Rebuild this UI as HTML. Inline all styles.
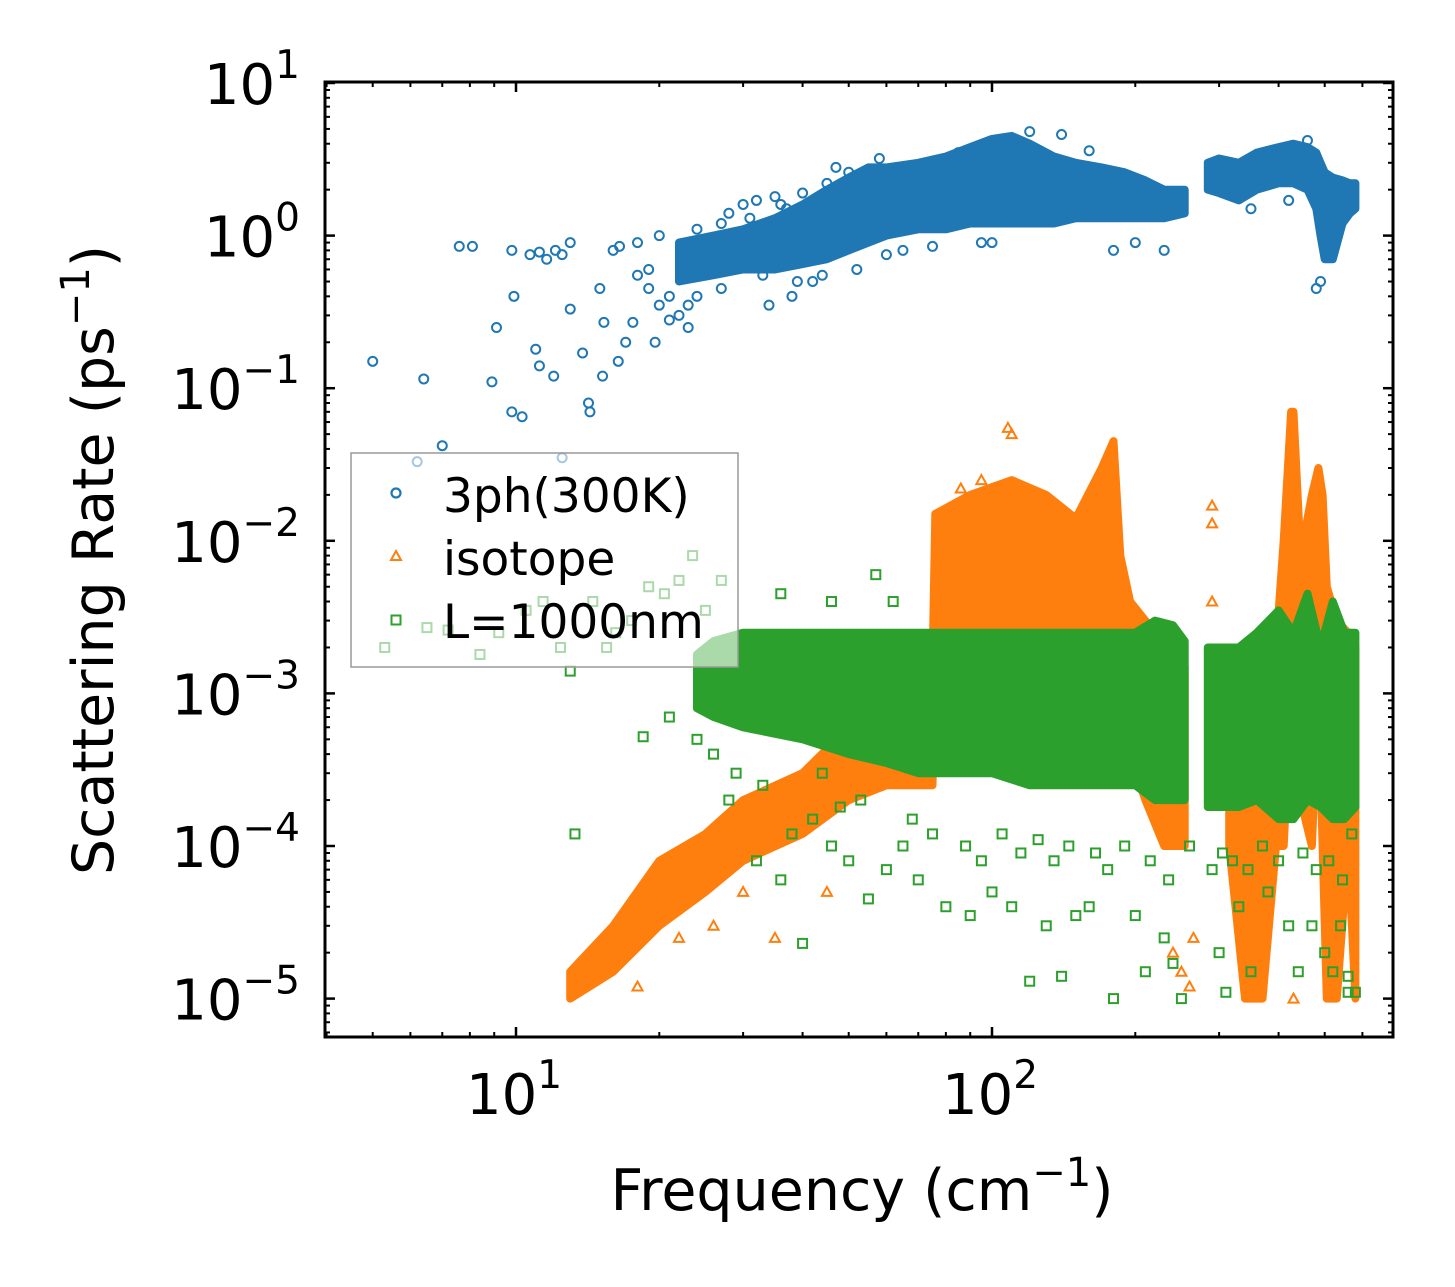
<!DOCTYPE html>
<html><head><meta charset="utf-8"><style>
body{margin:0;background:#fff;}
svg{display:block;font-family:"DejaVu Sans","Liberation Sans",sans-serif;}
</style></head><body>
<svg id="chart" width="1455" height="1287" viewBox="0 0 1455 1287" xmlns="http://www.w3.org/2000/svg">
<rect width="1455" height="1287" fill="#fff"/>
<g id="marks"></g>
<g id="axes"></g>
<g>
<rect x="351" y="453" width="387" height="214" fill="#fff" fill-opacity="0.6" stroke="#999" stroke-width="1.5"/>
<circle cx="396" cy="493" r="4.5" fill="none" stroke="#1f77b4" stroke-width="2.2"/>
<text x="443" y="512" font-size="47">3ph(300K)</text>
<polygon points="396,551 401,560 391,560" fill="none" stroke="#ff7f0e" stroke-width="2"/>
<text x="443" y="575" font-size="47">isotope</text>
<rect x="391.5" y="615.5" width="9" height="9" fill="none" stroke="#2ca02c" stroke-width="2"/>
<text x="443" y="638" font-size="47">L=1000nm</text>
</g>
<text x="862" y="1210" font-size="57" text-anchor="middle">Frequency (cm<tspan dy="-24" font-size="40">−1</tspan><tspan dy="24">)</tspan></text>
<text transform="translate(113,560) rotate(-90)" font-size="57" text-anchor="middle">Scattering Rate (ps<tspan dy="-24" font-size="40">−1</tspan><tspan dy="24">)</tspan></text>
</svg>
<script>
// ---- data ----
const blueEnvF  = [22, 26, 30, 35, 40, 45, 50, 55, 60, 70, 80, 90, 100, 110, 120, 135, 150, 170, 190, 210, 230, 254, null, 284, 300, 330, 360, 400, 430, 460, 480, 490, 500, 520, 545, 565, 580];
const blueEnvLo = [0.5, 0.55,0.6, 0.6, 0.65,0.7, 0.8, 0.9, 1.0, 1.1, 1.1, 1.2, 1.2, 1.2, 1.2, 1.2, 1.3, 1.3, 1.3, 1.3, 1.3, 1.4, null, 2.0, 1.9, 1.7, 2.0, 2.2, 2.2, 2.0, 1.5, 1.0, 0.7, 0.7, 1.2, 1.4, 1.5];
const blueEnvHi = [0.9, 1.0, 1.1, 1.3, 1.6, 2.0, 2.4, 2.8, 2.8, 3.0, 3.3, 3.8, 4.3, 4.5, 4.0, 3.3, 3.0, 2.8, 2.6, 2.3, 2.0, 2.0, null, 3.0, 3.2, 3.0, 3.5, 3.8, 4.0, 3.8, 3.5, 3.0, 2.6, 2.4, 2.3, 2.2, 2.2];
const blueF = [
 5.0, 6.4, 7.0, 6.2, 7.6, 8.1, 9.1, 8.9, 9.8, 9.9,
 9.8, 10.3,10.7,11.2,11.6,12.1,12.5,13,  11,  11.2,
 12,  12.5,14.2,14.3,13.8,13,  15.3,15,  15.2,16.4,
 17,  17.6,19.6,16,  16.5,18,  19,  20,  21,  22,
 23,  24,  28,  30,  32,  35,  37,  40,  45,  50,
 25,  27,  34,  38,  42,  60,  100, 180, 480, 490,
 18,  19,  20,  21,  23,  24,  26,  27,  29,  31,
 33,  36,  39,  44,  47,  52,  58,  65,  75,  85,
 95,  120, 140, 160, 200, 230, 300, 350, 420, 460];
const blueV = [
 0.15,0.115,0.042,0.033,0.85,0.85,0.25,0.11,0.8, 0.4,
 0.07,0.065,0.75,0.78,0.7, 0.8, 0.75,0.9, 0.18,0.14,
 0.12,0.035,0.08,0.07,0.17,0.33,0.27,0.45,0.12,0.15,
 0.2, 0.27,0.2, 0.8, 0.85,0.9, 0.6, 0.35,0.28,0.3,
 0.25,0.4, 1.4, 1.6, 1.7, 1.8, 1.5, 1.9, 2.2, 2.6,
 0.9, 1.2, 0.35,0.4, 0.5, 0.75,0.9, 0.8, 0.45,0.5,
 0.55,0.45,1.0, 0.4, 0.35,1.1, 0.6, 0.45,0.7, 1.3,
 0.55,1.6, 0.5, 0.55,2.8, 0.6, 3.2, 0.8, 0.85,3.5,
 0.9, 4.8, 4.6, 3.6, 0.9, 0.8, 2.2, 1.5, 1.7, 4.2];

const orangeEnvF  = [13, 16, 20, 25, 30, 40, 50, 60, 75, 76, 90, 110, 130, 150, 170, 180, 186, 195, 210, 230, 254, null, 315, 340, 370, 395, 410, 425, 430, 445, 470, 485, 495, 505, 530, 560, 580];
const orangeEnvLo = [1.0e-5,1.5e-5,3e-5,5e-5,8e-5,1.2e-4,2e-4,2.5e-4,2.5e-4,2e-3,2e-3,2e-3,2e-3,2e-3,2e-3,3e-3,1e-3,4e-4,2e-4,1e-4,1e-4,null,1e-4,1e-5,1e-5,1e-4,1e-4,1e-3,1e-3,2e-4,1e-4,1e-3,1e-4,1e-5,1e-5,1e-4,1e-5];
const orangeEnvHi = [1.5e-5,3e-5,8e-5,1.2e-4,2e-4,3e-4,6e-4,1e-3,1.5e-3,1.5e-2,2e-2,2.5e-2,2e-2,1.4e-2,3e-2,4.5e-2,8e-3,4e-3,3e-3,2e-3,1.5e-3,null,1e-3,2e-3,1.5e-3,2e-3,1e-2,7e-2,7e-2,8e-3,2e-2,3e-2,2e-2,5e-3,3e-3,2.5e-3,2e-3];
const orangeF = [108,110,86,95,290,290,290,18,19,22,26,30,35,45,240,250,260,265,430,520];
const orangeV = [0.055,0.05,0.022,0.025,0.017,0.013,0.004,1.2e-5,3e-5,2.5e-5,3e-5,5e-5,2.5e-5,5e-5,2e-5,1.5e-5,1.2e-5,2.5e-5,1e-5,1.1e-5];

const greenEnvF  = [24, 26, 30, 40, 50, 60, 70, 85, 100, 120, 140, 160, 180, 200, 220, 240, 254, null, 284, 300, 330, 360, 400, 430, 460, 490, 520, 550, 580];
const greenEnvLo = [8e-4,7e-4,6e-4,5e-4,4e-4,3.5e-4,3e-4,3e-4,3e-4,2.5e-4,2.5e-4,2.5e-4,2.5e-4,2.5e-4,2e-4,2e-4,2e-4,null,1.8e-4,1.8e-4,1.8e-4,2e-4,1.5e-4,1.5e-4,2e-4,1.8e-4,1.5e-4,1.5e-4,1.8e-4];
const greenEnvHi = [1.8e-3,2.2e-3,2.5e-3,2.5e-3,2.5e-3,2.5e-3,2.5e-3,2.5e-3,2.5e-3,2.5e-3,2.5e-3,2.5e-3,2.5e-3,2.5e-3,3e-3,2.8e-3,2.2e-3,null,2e-3,2e-3,2e-3,2.5e-3,3.5e-3,2.5e-3,4.5e-3,2e-3,4e-3,2.5e-3,2.5e-3];
const greenF = [
 5.3, 6.5, 7.2, 8.4, 9.2, 10.5,11.4,12.4,13.0,13.3,
 14.5,15.5,16.2,17.5,19,  20.5,22,  23.5,25,  27,
 18.5,21,  24,  26,  28,  32,  36,  38,  40,  44,
 46,  50,  55,  60,  65,  70,  80,  90,  100, 110,
 120, 130, 140, 150, 160, 180, 200, 210, 230, 240,
 250, 290, 300, 310, 330, 350, 380, 420, 440, 470,
 500, 520, 540, 560, 580, 46,  57,  36,  62,  29,
 33,  42,  48,  53,  68,  75,  88,  95,  105, 115,
 125, 135, 145, 165, 175, 190, 215, 235, 305, 320,
 345, 370, 400, 450, 480, 510, 545, 570, 260, 560];
const greenV = [
 0.002,0.0027,0.0026,0.0018,0.0025,0.0035,0.004,0.002,0.0014,1.2e-4,
 0.004,0.002,0.0025,0.003,0.005,0.0045,0.0055,0.008,0.0035,0.0055,
 5.2e-4,7e-4,5e-4,4e-4,2e-4,8e-5,6e-5,1.2e-4,2.3e-5,3e-4,
 1e-4,8e-5,4.5e-5,7e-5,1e-4,6e-5,4e-5,3.5e-5,5e-5,4e-5,
 1.3e-5,3e-5,1.4e-5,3.5e-5,4e-5,1e-5,3.5e-5,1.5e-5,2.5e-5,1.7e-5,
 1e-5,7e-5,2e-5,1.1e-5,4e-5,1.5e-5,5e-5,3e-5,1.5e-5,3e-5,
 2e-5,1.5e-5,3e-5,1.4e-5,1.1e-5,0.004,0.006,0.0045,0.004,3e-4,
 2.5e-4,1.5e-4,1.8e-4,2e-4,1.5e-4,1.2e-4,1.0e-4,8e-5,1.2e-4,9e-5,
 1.1e-4,8e-5,1e-4,9e-5,7e-5,1e-4,8e-5,6e-5,9e-5,8e-5,
 7e-5,1e-4,8e-5,9e-5,7e-5,8e-5,6e-5,1.2e-4,1e-4,1.1e-5];

// ---- axes functions ----
const X0=325,X1=1393,Y0=82,Y1=1037;
const pxPerDecX=476, x10=516;
const y10=83, pxPerDecY=152.6;
const xs=f=>x10+(Math.log10(f)-1)*pxPerDecX;
const ys=v=>y10+(1-Math.log10(v))*pxPerDecY;
const xTickVals=[10,100];
const xTickLabels=['1','2'];
const yTickVals=[10,1,0.1,0.01,0.001,1e-4,1e-5];
const yTickLabels=['1','0','−1','−2','−3','−4','−5'];
const NS='http://www.w3.org/2000/svg';
const marks=document.getElementById('marks');
const axes=document.getElementById('axes');
function mk(tag,attrs,parent){const e=document.createElementNS(NS,tag);for(const k in attrs)e.setAttribute(k,attrs[k]);parent.appendChild(e);return e;}

function envelope(F,Lo,Hi,color,name){
  let seg=[];
  const segs=[];
  for(let i=0;i<F.length;i++){
    if(F[i]===null){if(seg.length)segs.push(seg);seg=[];}else seg.push(i);
  }
  if(seg.length)segs.push(seg);
  segs.forEach(s=>{
    const top=s.map(i=>xs(F[i]).toFixed(1)+','+ys(Hi[i]).toFixed(1));
    const bot=s.slice().reverse().map(i=>xs(F[i]).toFixed(1)+','+ys(Lo[i]).toFixed(1));
    const p=mk('polygon',{points:top.concat(bot).join(' '),fill:color,stroke:color,'stroke-width':8,'stroke-linejoin':'round'},marks);
    
    
  });
}
function circles(F,V,color){
  F.forEach((f,i)=>{
    if(V[i]===undefined)return;
    const c=mk('circle',{cx:xs(f),cy:ys(V[i]),r:4.5,fill:'none',stroke:color,'stroke-width':2},marks);
    
    
  });
}
function tris(F,V,color){
  F.forEach((f,i)=>{
    if(V[i]===undefined)return;
    const x=xs(f),y=ys(V[i]);
    const t=mk('polygon',{points:`${x},${y-5} ${x+5},${y+4} ${x-5},${y+4}`,fill:'none',stroke:color,'stroke-width':2},marks);
    
    
  });
}
function squares(F,V,color){
  F.forEach((f,i)=>{
    if(V[i]===undefined)return;
    const s=mk('rect',{x:xs(f)-4.5,y:ys(V[i])-4.5,width:9,height:9,fill:'none',stroke:color,'stroke-width':2},marks);
    
    
  });
}
envelope(blueEnvF,blueEnvLo,blueEnvHi,'#1f77b4','band-3ph');
circles(blueF,blueV,'#1f77b4');
envelope(orangeEnvF,orangeEnvLo,orangeEnvHi,'#ff7f0e','band-isotope');
tris(orangeF,orangeV,'#ff7f0e');
envelope(greenEnvF,greenEnvLo,greenEnvHi,'#2ca02c','band-boundary');
squares(greenF,greenV,'#2ca02c');

// frame
const fr=mk('rect',{x:X0,y:Y0,width:X1-X0,height:Y1-Y0,fill:'none',stroke:'#000','stroke-width':3},axes);


// x ticks
for(let d=0;d<=2;d++){for(let m=1;m<=9;m++){
  const f=m*Math.pow(10,d);const x=xs(f);if(x<X0+1||x>X1-1)continue;
  const L=m===1?10:5;
  mk('line',{x1:x,y1:Y1,x2:x,y2:Y1-L,stroke:'#000','stroke-width':m===1?2.5:2},axes);
  mk('line',{x1:x,y1:Y0,x2:x,y2:Y0+L,stroke:'#000','stroke-width':m===1?2.5:2},axes);
}}
xTickVals.forEach((v,i)=>{
  const t=mk('text',{x:xs(v)-2,y:Y1+77,'font-size':56,'text-anchor':'middle'},axes);
  
  
  t.innerHTML='10<tspan dy="-26" font-size="39">'+xTickLabels[i]+'</tspan>';
});
// y ticks
for(let d=-5;d<=1;d++){for(let m=1;m<=9;m++){
  const v=m*Math.pow(10,d);const y=ys(v);if(y<Y0-1||y>Y1-1)continue;
  const L=m===1?10:5;
  mk('line',{x1:X0,y1:y,x2:X0+L,y2:y,stroke:'#000','stroke-width':m===1?2.5:2},axes);
  mk('line',{x1:X1,y1:y,x2:X1-L,y2:y,stroke:'#000','stroke-width':m===1?2.5:2},axes);
}}
[9e-6,8e-6,7e-6,6e-6].forEach(v=>{const y=ys(v);if(y<Y1){mk('line',{x1:X0,y1:y,x2:X0+5,y2:y,stroke:'#000','stroke-width':2},axes);mk('line',{x1:X1,y1:y,x2:X1-5,y2:y,stroke:'#000','stroke-width':2},axes);}});
yTickVals.forEach((v,i)=>{
  const t=mk('text',{x:300,y:ys(v)+21,'font-size':56,'text-anchor':'end'},axes);
  
  
  t.innerHTML='10<tspan dy="-26" font-size="39">'+yTickLabels[i]+'</tspan>';
});
</script>
</body></html>
